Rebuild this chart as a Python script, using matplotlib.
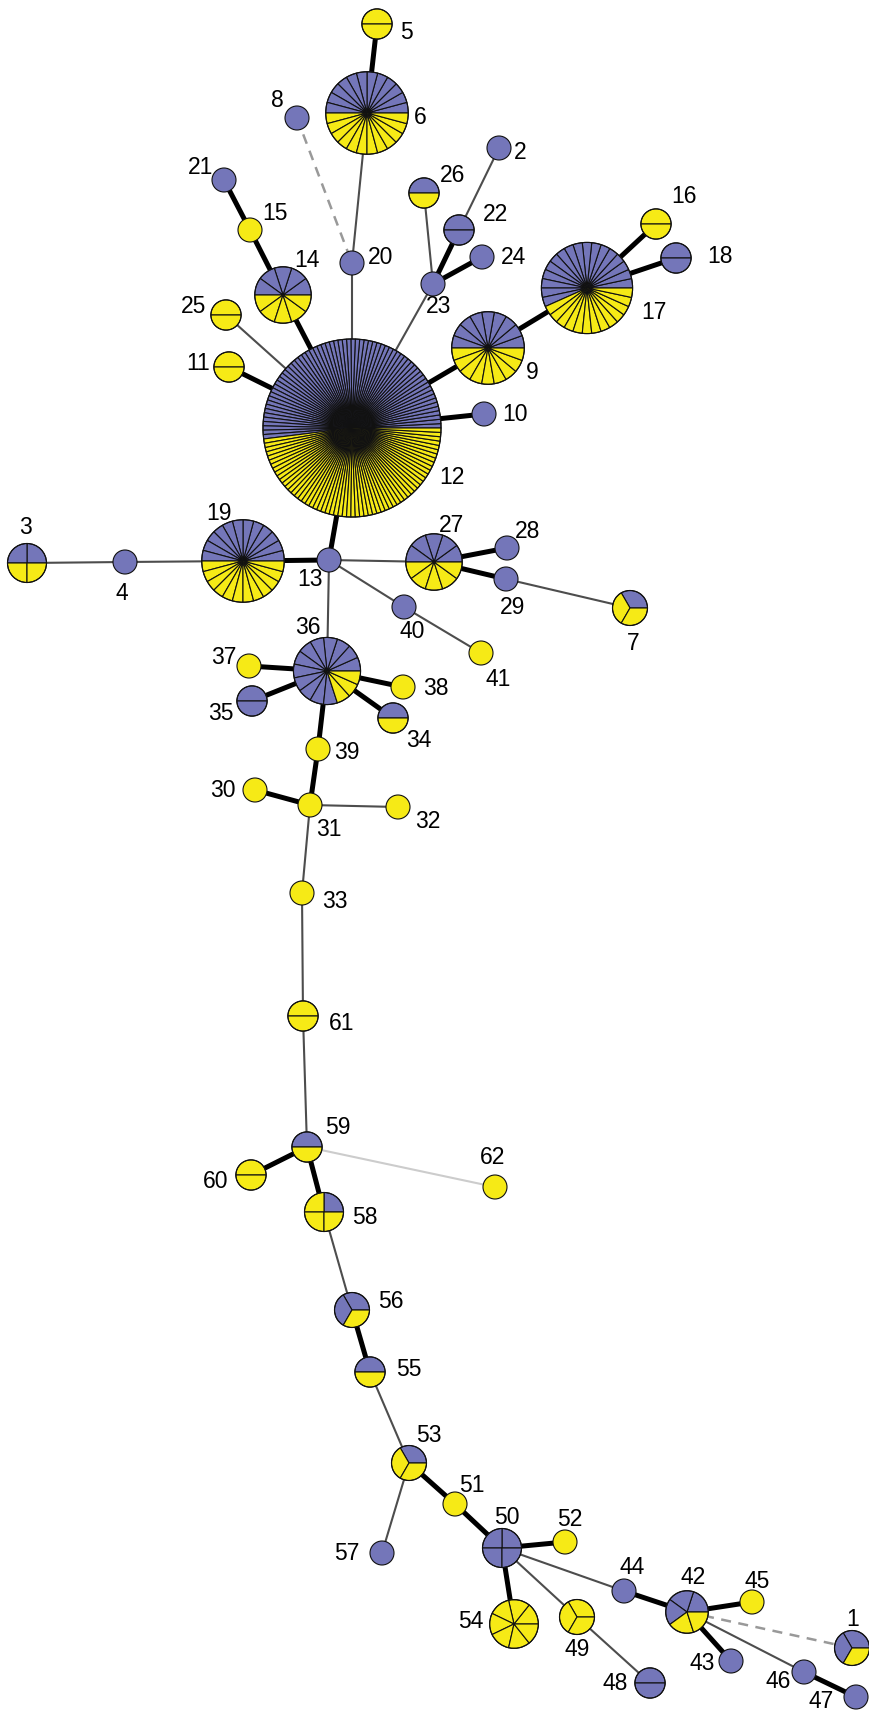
import matplotlib
matplotlib.use("Agg")
import matplotlib.pyplot as plt
from matplotlib.patches import Wedge, Circle
import numpy as np

# ---------------- data ----------------
node_ids = [str(i) for i in range(1, 63)]
blue_counts = [2, 1, 2, 1, 0, 12, 1, 1, 9, 1,
               0, 66, 1, 5, 0, 0, 17, 2, 12, 1,
               1, 2, 1, 1, 0, 1, 5, 1, 1, 0,
               0, 0, 0, 1, 2, 12, 0, 0, 0, 1,
               0, 3, 1, 1, 0, 1, 1, 2, 0, 4,
               0, 0, 1, 0, 1, 2, 1, 1, 1, 0,
               0, 0]
yellow_counts = [1, 0, 2, 0, 2, 12, 2, 0, 9, 0,
                 2, 61, 0, 5, 1, 2, 13, 0, 12, 0,
                 0, 0, 0, 0, 2, 1, 5, 0, 0, 1,
                 1, 1, 1, 1, 0, 3, 1, 1, 1, 0,
                 1, 2, 0, 0, 1, 0, 0, 0, 3, 0,
                 1, 1, 2, 7, 1, 1, 0, 3, 1, 2,
                 2, 1]

# edges: (a, b)
thick_edges = [("5", "6"), ("21", "15"), ("15", "14"), ("14", "12"), ("11", "12"),
               ("23", "22"), ("23", "24"), ("12", "9"), ("9", "17"), ("17", "16"),
               ("17", "18"), ("12", "10"), ("12", "13"), ("19", "13"), ("27", "28"),
               ("27", "29"), ("36", "37"), ("36", "35"), ("36", "38"), ("36", "34"),
               ("36", "39"), ("39", "31"), ("30", "31"), ("59", "60"), ("59", "58"),
               ("56", "55"), ("53", "51"), ("51", "50"), ("50", "52"), ("50", "54"),
               ("44", "42"), ("42", "45"), ("42", "43"), ("46", "47")]
thin_edges = [("6", "20"), ("20", "12"), ("23", "12"), ("26", "23"), ("2", "22"),
              ("25", "12"), ("3", "4"), ("4", "19"), ("13", "27"), ("13", "36"),
              ("13", "40"), ("40", "41"), ("29", "7"), ("31", "32"), ("31", "33"),
              ("33", "61"), ("61", "59"), ("58", "56"), ("55", "53"), ("53", "57"),
              ("50", "44"), ("50", "49"), ("49", "48"), ("42", "46")]
dashed_edges = [("8", "20"), ("42", "1")]
faint_edges = [("59", "62")]

# ---------------- layout (pixel coordinates of the network drawing) ----------------
layout = {
    "1": (852, 1648), "2": (499, 148), "3": (27, 563), "4": (125, 562), "5": (377, 24),
    "6": (367, 113), "7": (630, 608), "8": (297, 118), "9": (488, 348), "10": (484, 414),
    "11": (229, 367), "12": (352, 428), "13": (329, 560), "14": (283, 295), "15": (250, 230),
    "16": (656, 224), "17": (587, 288), "18": (676, 258), "19": (243, 561), "20": (352, 263),
    "21": (224, 180), "22": (459, 230), "23": (433, 284), "24": (482, 257), "25": (226, 315),
    "26": (424, 193), "27": (434, 562), "28": (507, 548), "29": (506, 579), "30": (255, 790),
    "31": (310, 805), "32": (398, 807), "33": (302, 893), "34": (393, 718), "35": (252, 701),
    "36": (327, 671), "37": (249, 666), "38": (403, 687), "39": (318, 749), "40": (404, 607),
    "41": (481, 653), "42": (687, 1612), "43": (731, 1661), "44": (624, 1591), "45": (752, 1602),
    "46": (804, 1672), "47": (856, 1697), "48": (650, 1683), "49": (577, 1617), "50": (502, 1548),
    "51": (455, 1504), "52": (565, 1542), "53": (409, 1463), "54": (514, 1624), "55": (370, 1372),
    "56": (352, 1310), "57": (382, 1553), "58": (324, 1212), "59": (307, 1147), "60": (251, 1175),
    "61": (303, 1016), "62": (495, 1187),
}
label_pos = {
    "1": (853, 1620), "2": (520, 152), "3": (25, 527), "4": (122, 593), "5": (406, 32),
    "6": (420, 117), "7": (633, 643), "8": (277, 100), "9": (532, 372), "10": (515, 414),
    "11": (198, 363), "12": (452, 477), "13": (310, 579), "14": (307, 260), "15": (275, 213),
    "16": (684, 196), "17": (654, 312), "18": (720, 256), "19": (219, 513), "20": (381, 257),
    "21": (201, 167), "22": (495, 214), "23": (439, 306), "24": (514, 257), "25": (194, 306),
    "26": (453, 175), "27": (451, 525), "28": (528, 531), "29": (513, 607), "30": (223, 790),
    "31": (329, 829), "32": (428, 821), "33": (335, 901), "34": (419, 740), "35": (221, 713),
    "36": (308, 628), "37": (224, 658), "38": (436, 688), "39": (347, 752), "40": (412, 632),
    "41": (498, 679), "42": (693, 1578), "43": (702, 1663), "44": (632, 1568), "45": (757, 1581),
    "46": (778, 1682), "47": (821, 1702), "48": (615, 1683), "49": (577, 1649), "50": (507, 1518),
    "51": (472, 1485), "52": (570, 1520), "53": (429, 1435), "54": (471, 1621), "55": (409, 1369),
    "56": (391, 1302), "57": (347, 1553), "58": (365, 1218), "59": (338, 1128), "60": (216, 1181),
    "61": (342, 1023), "62": (493, 1157),
}

BLUE = "#7476B9"
YELLOW = "#F6EA16"

W, H = 869, 1712
fig = plt.figure(figsize=(W / 100, H / 100), dpi=100)
ax = fig.add_axes([0, 0, 1, 1])
ax.set_xlim(0, W)
ax.set_ylim(H, 0)
ax.set_aspect("equal")
ax.axis("off")


def radius(n):
    return 4.5 + 7.5 * np.sqrt(n)


def draw_edges(edges, **kw):
    for a, b in edges:
        xa, ya = layout[a]
        xb, yb = layout[b]
        ax.plot([xa, xb], [ya, yb], solid_capstyle="butt", zorder=1, **kw)


draw_edges(faint_edges, color="#cccccc", lw=1.5)
draw_edges(dashed_edges, color="#999999", lw=1.8, linestyle=(0, (4, 3)))
draw_edges(thin_edges, color="#4d4d4d", lw=1.5)
draw_edges(thick_edges, color="black", lw=3.6)

for nid, nb, ny in zip(node_ids, blue_counts, yellow_counts):
    cx, cy = layout[nid]
    n = nb + ny
    r = radius(n)
    step = 360.0 / n
    if n == 1:
        ax.add_patch(Circle((cx, cy), r, facecolor=BLUE if nb else YELLOW,
                            edgecolor="#111111", lw=0.8, zorder=3))
    else:
        for k in range(n):
            a0 = k * step
            a1 = (k + 1) * step
            col = BLUE if k < nb else YELLOW
            # y axis is inverted: screen counter-clockwise -> negative data angles
            ax.add_patch(Wedge((cx, cy), r, -a1, -a0, facecolor=col,
                               edgecolor="#111111", lw=0.8, zorder=3))
        ax.add_patch(Circle((cx, cy), r, facecolor="none", edgecolor="#111111",
                            lw=0.8, zorder=4))
    lx, ly = label_pos[nid]
    ax.text(lx, ly, nid, ha="center", va="center", fontsize=16.5,
            family=["Liberation Sans", "DejaVu Sans"], color="black", zorder=5)

fig.savefig("out.png", dpi=100, facecolor="white")
